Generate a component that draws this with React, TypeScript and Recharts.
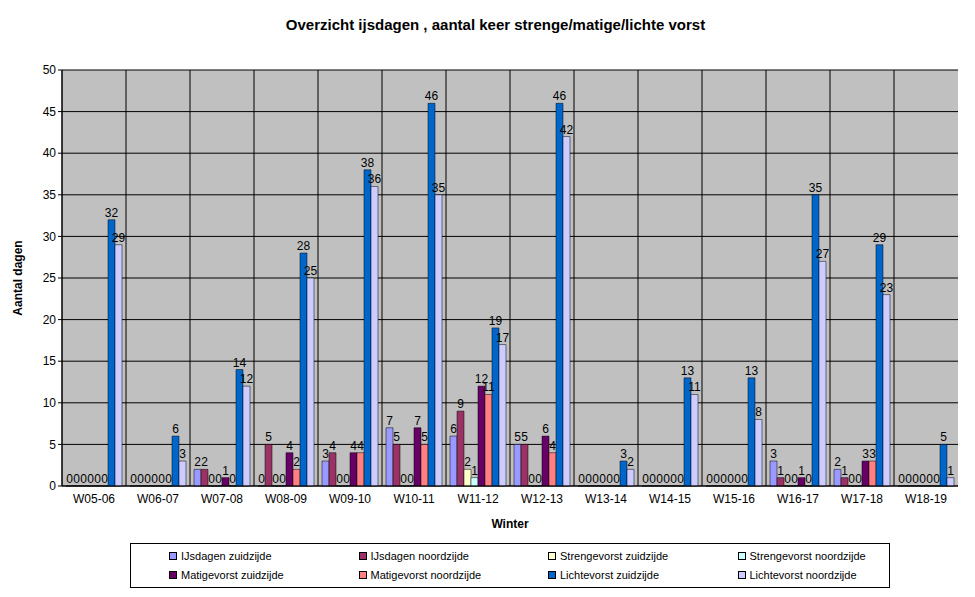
import React from "react";
import { BarChart, Bar, XAxis, YAxis, CartesianGrid, LabelList } from "recharts";

const winters = ["W05-06","W06-07","W07-08","W08-09","W09-10","W10-11","W11-12","W12-13","W13-14","W14-15","W15-16","W16-17","W17-18","W18-19"];
const ijsZuid = [0,0,2,0,3,7,6,5,0,0,0,3,2,0];
const ijsNoord = [0,0,2,5,4,5,9,5,0,0,0,1,1,0];
const strengeZuid = [0,0,0,0,0,0,2,0,0,0,0,0,0,0];
const strengeNoord = [0,0,0,0,0,0,1,0,0,0,0,0,0,0];
const matigeZuid = [0,0,1,4,4,7,12,6,0,0,0,1,3,0];
const matigeNoord = [0,0,0,2,4,5,11,4,0,0,0,0,3,0];
const lichteZuid = [32,6,14,28,38,46,19,46,3,13,13,35,29,5];
const lichteNoord = [29,3,12,25,36,35,17,42,2,11,8,27,23,1];
const yTicks = [0,5,10,15,20,25,30,35,40,45,50];

const series = [
  { key: "a", name: "IJsdagen zuidzijde", values: ijsZuid, color: "#9999FF" },
  { key: "b", name: "IJsdagen noordzijde", values: ijsNoord, color: "#993366" },
  { key: "c", name: "Strengevorst zuidzijde", values: strengeZuid, color: "#FFFFCC" },
  { key: "d", name: "Strengevorst noordzijde", values: strengeNoord, color: "#CCFFFF" },
  { key: "e", name: "Matigevorst zuidzijde", values: matigeZuid, color: "#660066" },
  { key: "f", name: "Matigevorst noordzijde", values: matigeNoord, color: "#FF8080" },
  { key: "g", name: "Lichtevorst zuidzijde", values: lichteZuid, color: "#0066CC" },
  { key: "h", name: "Lichtevorst noordzijde", values: lichteNoord, color: "#CCCCFF" },
];

const data = winters.map((w, i) => {
  const row: any = { name: w };
  series.forEach((s) => (row[s.key] = s.values[i]));
  return row;
});

const font = "'Liberation Sans', Arial, sans-serif";

export default function App() {
  return (
    <div style={{ position: "relative", width: 959, height: 589, fontFamily: font }}>
      <div style={{ position: "absolute", left: 0, top: 8, width: 975, textAlign: "center", fontWeight: "bold", fontSize: 15 }}>
        Overzicht ijsdagen , aantal keer strenge/matige/lichte vorst
      </div>
      <BarChart
        width={955}
        height={590}
        data={data}
        margin={{ top: 62, right: 5, left: 24, bottom: 82 }}
        barCategoryGap={4}
        barGap={0}
      >
        <CartesianGrid
          stroke="#000"
          strokeWidth={1}
          fill="#C0C0C0"
          fillOpacity={1}
          verticalCoordinatesGenerator={({ offset }: any) =>
            winters.map((_, i) => offset.left + (i * offset.width) / winters.length)
          }
        />
        <XAxis
          dataKey="name"
          stroke="#000"
          tick={{ fill: "#000", fontSize: 12, fontFamily: font }}
          tickLine={false}
          height={30}
          label={{ value: "Winter", position: "insideBottom", offset: -2, fontWeight: "bold", fontSize: 12, fill: "#000", dy: 10 }}
        />
        <YAxis
          domain={[0, 50]}
          ticks={yTicks}
          width={30}
          stroke="#000"
          tickSize={4}
          tick={{ fill: "#000", fontSize: 12, fontFamily: font }}
          label={{ value: "Aantal dagen", angle: -90, position: "insideLeft", offset: -14, fontWeight: "bold", fontSize: 12, fill: "#000", style: { textAnchor: "middle" } }}
        />
        {series.map((s) => (
          <Bar key={s.key} dataKey={s.key} name={s.name} fill={s.color} stroke="#000" strokeWidth={0.5} minPointSize={0.01} isAnimationActive={false}>
            <LabelList dataKey={s.key} position="top" fill="#000" fontSize={12} offset={3} />
          </Bar>
        ))}
      </BarChart>
      <div
        style={{
          position: "absolute", left: 122, top: 535, width: 760, height: 45,
          border: "1px solid #000", background: "#fff", display: "grid",
          gridTemplateColumns: "repeat(4, 1fr)", alignItems: "center", fontSize: 11, padding: "2px 0", boxSizing: "border-box",
        }}
      >
        {series.map((s) => (
          <div key={s.key} style={{ display: "flex", alignItems: "center", paddingLeft: 38 }}>
            <span style={{ width: 6, height: 6, background: s.color, border: "1px solid #000", marginRight: 4, display: "inline-block" }} />
            {s.name}
          </div>
        ))}
      </div>
    </div>
  );
}
